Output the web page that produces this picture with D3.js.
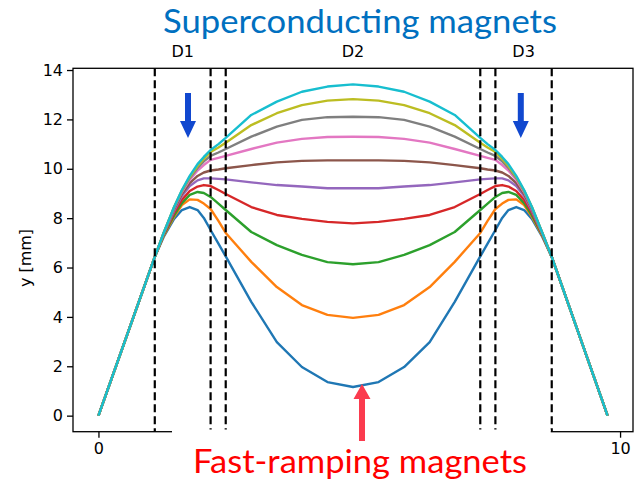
<!DOCTYPE html>
<html>
<head>
<meta charset="utf-8">
<script src="https://cdn.jsdelivr.net/npm/d3@7"></script>
<style>
  html, body { margin: 0; padding: 0; background: #fff; }
  svg { display: block; }
</style>
</head>
<body>
<svg id="chart" width="636" height="484"></svg>
<script>
// ---------------- data ----------------
const xs = [0, 1.08, 1.25, 1.45, 1.6, 1.75, 1.9, 2.02, 2.15, 2.3, 2.44, 2.93, 3.42, 3.90, 4.39, 4.88,
            5.37, 5.86, 6.35, 6.83, 7.32, 7.46, 7.61, 7.74, 7.86, 8.01, 8.16, 8.31, 8.51, 8.69, 9.76];

const s0 = [0, 6.43, 7.24, 7.97, 8.33, 8.45, 8.33, 8.01, 7.52, 6.97, 6.45, 4.61, 2.98, 1.97, 1.36, 1.16,
            1.36, 1.97, 2.98, 4.61, 6.45, 6.97, 7.52, 8.01, 8.33, 8.45, 8.33, 7.97, 7.24, 6.43, 0];
const s1 = [0, 6.43, 7.28, 8.05, 8.53, 8.76, 8.74, 8.59, 8.37, 7.89, 7.40, 6.23, 5.21, 4.48, 4.08, 3.96,
            4.08, 4.48, 5.21, 6.23, 7.40, 7.89, 8.37, 8.59, 8.74, 8.76, 8.53, 8.05, 7.28, 6.43, 0];
const s2 = [0, 6.43, 7.32, 8.11, 8.61, 8.94, 9.06, 9.02, 8.86, 8.59, 8.33, 7.44, 6.91, 6.51, 6.22, 6.13,
            6.22, 6.51, 6.91, 7.44, 8.33, 8.59, 8.86, 9.02, 9.06, 8.94, 8.61, 8.11, 7.32, 6.43, 0];
const s3 = [0, 6.43, 7.34, 8.21, 8.74, 9.10, 9.28, 9.34, 9.30, 9.14, 8.98, 8.45, 8.13, 7.97, 7.85, 7.79,
            7.85, 7.97, 8.13, 8.45, 8.98, 9.14, 9.30, 9.34, 9.28, 9.10, 8.74, 8.21, 7.34, 6.43, 0];
const s4 = [0, 6.43, 7.36, 8.29, 8.90, 9.30, 9.53, 9.61, 9.61, 9.59, 9.57, 9.45, 9.34, 9.28, 9.21, 9.21,
            9.21, 9.28, 9.34, 9.45, 9.57, 9.59, 9.61, 9.61, 9.53, 9.30, 8.90, 8.29, 7.36, 6.43, 0];
const s5 = [0, 6.43, 7.38, 8.37, 8.98, 9.42, 9.71, 9.85, 9.93, 9.97, 10.02, 10.15, 10.26, 10.32, 10.34, 10.34,
            10.34, 10.32, 10.26, 10.15, 10.02, 9.97, 9.93, 9.85, 9.71, 9.42, 8.98, 8.37, 7.38, 6.43, 0];
const s6 = [0, 6.43, 7.40, 8.41, 9.06, 9.55, 9.93, 10.15, 10.36, 10.44, 10.52, 10.80, 11.06, 11.21, 11.29, 11.30,
            11.29, 11.21, 11.06, 10.80, 10.52, 10.44, 10.36, 10.15, 9.93, 9.55, 9.06, 8.41, 7.40, 6.43, 0];
const s7 = [0, 6.43, 7.40, 8.43, 9.10, 9.63, 10.03, 10.30, 10.52, 10.66, 10.80, 11.30, 11.71, 11.98, 12.09, 12.11,
            12.09, 11.98, 11.71, 11.30, 10.80, 10.66, 10.52, 10.30, 10.03, 9.63, 9.10, 8.43, 7.40, 6.43, 0];
const s8 = [0, 6.43, 7.40, 8.45, 9.12, 9.67, 10.11, 10.40, 10.68, 10.86, 11.05, 11.77, 12.25, 12.58, 12.76, 12.82,
            12.76, 12.58, 12.25, 11.77, 11.05, 10.86, 10.68, 10.40, 10.11, 9.67, 9.12, 8.45, 7.40, 6.43, 0];
const s9 = [0, 6.43, 7.40, 8.45, 9.14, 9.71, 10.19, 10.48, 10.76, 11.00, 11.25, 12.18, 12.72, 13.12, 13.33, 13.42,
            13.33, 13.12, 12.72, 12.18, 11.25, 11.00, 10.76, 10.48, 10.19, 9.71, 9.14, 8.45, 7.40, 6.43, 0];

const series = [s0, s1, s2, s3, s4, s5, s6, s7, s8, s9];
const colors = ["#1f77b4", "#ff7f0e", "#2ca02c", "#d62728", "#9467bd",
                "#8c564b", "#e377c2", "#7f7f7f", "#bcbd22", "#17becf"];

const dashedX = [1.08, 2.15, 2.44, 7.32, 7.61, 8.69];
const magnetLabels = ["D1", "D2", "D3"];
const magnetCenters = [1.615, 4.88, 8.15];
const yTicks = [0, 2, 4, 6, 8, 10, 12, 14];
const xTicks = [0, 10];
const yLabel = "y [mm]";
const topTitle = "Superconducting magnets";
const bottomTitle = "Fast-ramping magnets";

// ---------------- layout ----------------
const L = 73, R = 633, T = 68.3, B = 431.7;
const svg = d3.select("#chart");

const x = d3.scaleLinear().domain([-0.488, 10.248]).range([L, R]);
const y = d3.scaleLinear().domain([-0.65, 14.07]).range([B, T]);

const tickFont = "DejaVu Sans, sans-serif";

// lines
const line = d3.line().x((d, i) => x(xs[i])).y(d => y(d));
svg.append("g").selectAll("path").data(series).join("path")
  .attr("d", d => line(d))
  .attr("fill", "none")
  .attr("stroke", (d, i) => colors[i])
  .attr("stroke-width", 2.4)
  .attr("stroke-linejoin", "round")
  .attr("stroke-linecap", "butt");

// dashed verticals
svg.append("g").selectAll("line").data(dashedX).join("line")
  .attr("x1", d => x(d)).attr("x2", d => x(d))
  .attr("y1", T).attr("y2", B)
  .attr("stroke", "#000").attr("stroke-width", 2.2)
  .attr("stroke-dasharray", "8,4");

// frame
svg.append("rect").attr("x", L).attr("y", T).attr("width", R - L).attr("height", B - T)
  .attr("fill", "none").attr("stroke", "#000").attr("stroke-width", 1.3);

// y axis
const yAxis = svg.append("g").attr("transform", `translate(${L},0)`)
  .call(d3.axisLeft(y).tickValues(yTicks).tickSize(6).tickPadding(4).tickFormat(d3.format("d")));
yAxis.select(".domain").remove();
yAxis.selectAll("line").attr("stroke", "#000").attr("stroke-width", 1.3);
yAxis.selectAll("text").attr("font-family", tickFont).attr("font-size", 16).attr("fill", "#000");

// x axis
const xAxis = svg.append("g").attr("transform", `translate(0,${B})`)
  .call(d3.axisBottom(x).tickValues(xTicks).tickSize(6).tickPadding(5).tickFormat(d3.format("d")));
xAxis.select(".domain").remove();
xAxis.selectAll("line").attr("stroke", "#000").attr("stroke-width", 1.3);
xAxis.selectAll("text").attr("font-family", tickFont).attr("font-size", 16).attr("fill", "#000");

// white text box covering lower part
svg.append("rect").attr("x", 172).attr("y", 429.5).attr("width", x(8.69) - 172 - 1).attr("height", 60)
  .attr("fill", "#fff");

// y label
svg.append("text")
  .attr("transform", `translate(31,${(T + B) / 2 + 8}) rotate(-90)`)
  .attr("text-anchor", "middle")
  .attr("font-family", tickFont).attr("font-size", 16).attr("fill", "#000")
  .text(yLabel);

// magnet labels
svg.append("g").selectAll("text").data(magnetLabels).join("text")
  .attr("x", (d, i) => x(magnetCenters[i]))
  .attr("y", 57)
  .attr("text-anchor", "middle")
  .attr("font-family", tickFont).attr("font-size", 16).attr("fill", "#000")
  .text(d => d);

// titles
svg.append("text").attr("x", 163).attr("y", 33)
  .attr("font-family", "Lato, 'Open Sans', sans-serif").attr("font-size", 32)
  .attr("fill", "#0070C0")
  .attr("textLength", 394).attr("lengthAdjust", "spacingAndGlyphs")
  .text(topTitle);

svg.append("text").attr("x", 193).attr("y", 473)
  .attr("font-family", "Lato, 'Open Sans', sans-serif").attr("font-size", 33)
  .attr("fill", "#FF0000")
  .attr("textLength", 334).attr("lengthAdjust", "spacingAndGlyphs")
  .text(bottomTitle);

// arrows
function downArrow(cx, top, tip, color) {
  const sw = 3, hw = 8, hb = tip - 17;
  return svg.append("path")
    .attr("d", `M${cx - sw},${top} L${cx + sw},${top} L${cx + sw},${hb} L${cx + hw},${hb} L${cx},${tip} L${cx - hw},${hb} L${cx - sw},${hb} Z`)
    .attr("fill", color);
}
function upArrow(cx, tip, bottom, color) {
  const sw = 3, hw = 8.5, hb = tip + 15;
  return svg.append("path")
    .attr("d", `M${cx - sw},${bottom} L${cx + sw},${bottom} L${cx + sw},${hb} L${cx + hw},${hb} L${cx},${tip} L${cx - hw},${hb} L${cx - sw},${hb} Z`)
    .attr("fill", color);
}
downArrow(188, 93, 138, "#1148CF");
downArrow(520.8, 93, 138, "#1148CF");
upArrow(362, 384, 441, "#FB3B4E");
</script>
</body>
</html>
